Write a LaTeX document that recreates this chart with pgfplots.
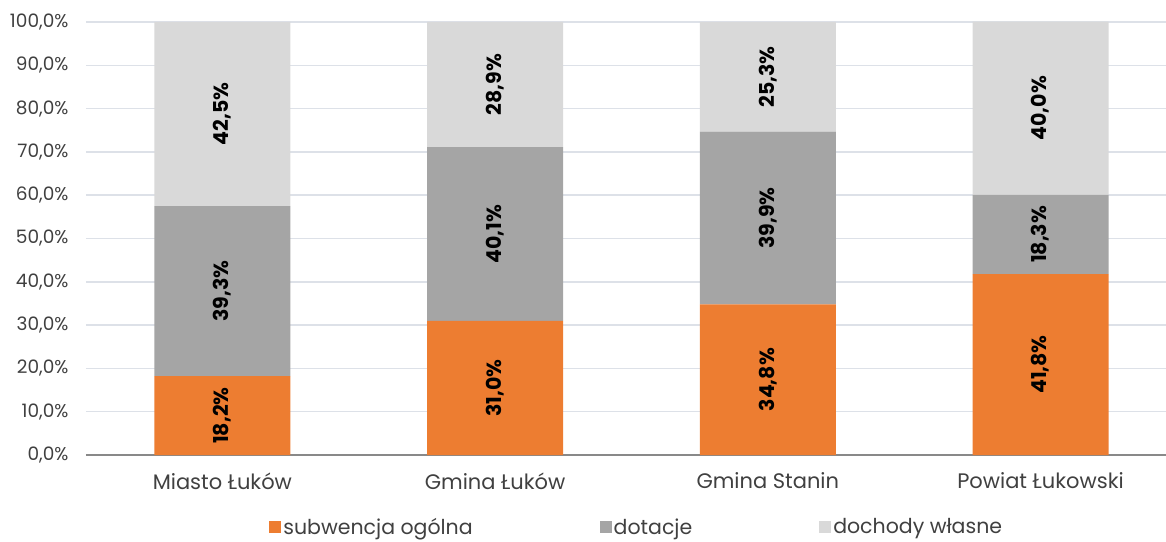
\documentclass[border=0pt]{standalone}
\usepackage{pgfplots}
\pgfplotsset{compat=1.18}
\usepackage{fontspec}
\setmainfont{Poppins}
\definecolor{c1}{HTML}{ED7D31}
\definecolor{c2}{HTML}{A5A5A5}
\definecolor{c3}{HTML}{D9D9D9}
\definecolor{gridc}{HTML}{DDE1E8}
\definecolor{txt}{HTML}{404040}
\definecolor{axc}{HTML}{898989}
\begin{document}
\begin{tikzpicture}
\begin{axis}[
  at={(0,0)}, anchor=south west,
  scale only axis, width=1080pt, height=433pt,
  ybar stacked, bar width=136pt,
  xmin=-0.5, xmax=3.46, ymin=0, ymax=100,
  clip=false,
  xtick={0,1,2,3},
  xticklabels={Miasto Łuków, Gmina Łuków, Gmina Stanin, Powiat Łukowski},
  ytick={0,10,...,100},
  yticklabel={\pgfmathprintnumber[fixed,fixed zerofill,precision=1,use comma]{\tick}\%},
  /pgf/number format/assume math mode=true,
  major tick length=0pt,
  axis lines*=left,
  y axis line style={draw=none},
  x axis line style={draw=axc, line width=2.5pt},
  ymajorgrids, grid style={draw=gridc, line width=1.5pt},
  ticklabel style={text=txt},
  yticklabel style={font=\fontsize{18.5}{20}\selectfont, xshift=-14pt},
  xticklabel style={font=\fontsize{21}{24}\selectfont, yshift=-14pt},
  visualization depends on=rawy \as \rawy,
  nodes near coords={\pgfmathprintnumber[fixed,fixed zerofill,precision=1,use comma]{\rawy}\%},
  every node near coord/.style={font=\bfseries\fontsize{20.5}{24}\selectfont, text=black, anchor=center, rotate=90},
  legend columns=3,
  legend style={draw=none, at={(axis description cs:0.51,0)}, anchor=center, yshift=-72pt, font=\fontsize{20.5}{24}\selectfont, text=txt,
    /tikz/every even column/.append style={column sep=125pt}},
  legend image code/.code={\fill[#1] (0pt,-6pt) rectangle (12pt,6pt);},
]
\addplot[fill=c1, draw=none] coordinates {(0,18.2) (1,31.0) (2,34.8) (3,41.8)};
\addplot[fill=c2, draw=none] coordinates {(0,39.3) (1,40.1) (2,39.9) (3,18.3)};
\addplot[fill=c3, draw=none] coordinates {(0,42.5) (1,28.9) (2,25.3) (3,40.0)};
\legend{subwencja ogólna, dotacje, dochody własne}
\end{axis}
\pgfresetboundingbox
\path (-86pt,-86pt) rectangle (1080pt,455pt);
\end{tikzpicture}
\end{document}
